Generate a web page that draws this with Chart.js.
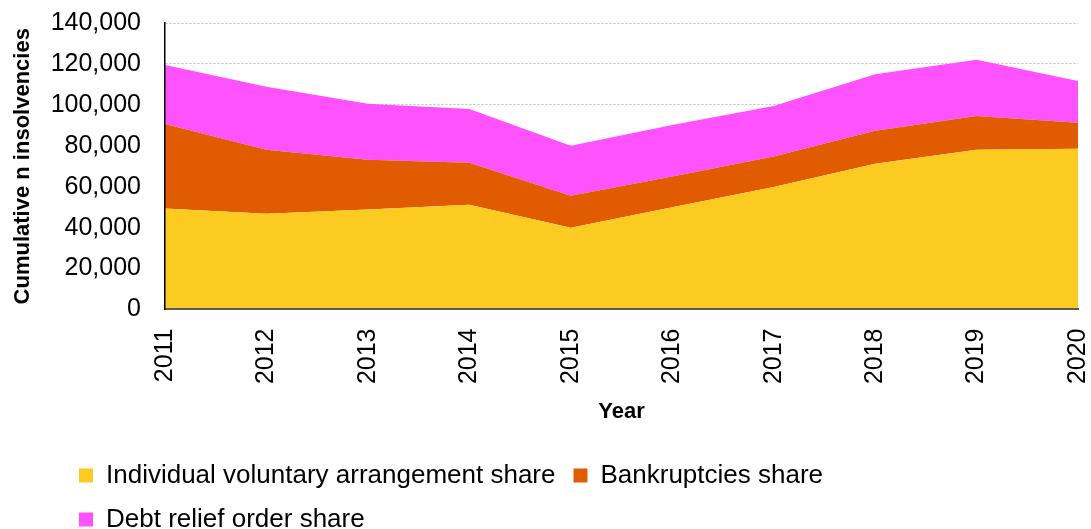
<!DOCTYPE html>
<html>
<head>
<meta charset="utf-8">
<script src="https://cdn.jsdelivr.net/npm/chart.js@4"></script>
<style>
  html, body { margin: 0; padding: 0; background: #fff; }
  #wrap { width: 1091px; height: 529px; }
</style>
</head>
<body>
<div id="wrap"><canvas id="insolvencyChart" width="1091" height="529"></canvas></div>
<script>
// values
const years = ['2011', '2012', '2013', '2014', '2015', '2016', '2017', '2018', '2019', '2020'];
const ivaShare = [49300, 46800, 48800, 51200, 40000, 49900, 59900, 71200, 78000, 78500];
const bankruptcyShare = [41400, 31200, 24400, 20500, 15600, 15100, 14900, 16100, 16600, 12700];
const droShare = [28800, 30800, 27300, 26300, 24400, 25100, 24700, 27700, 27400, 20500];
const yTicks = [0, 20000, 40000, 60000, 80000, 100000, 120000, 140000];

const font = 'Liberation Sans, Arial, sans-serif';

function area(label, data, color, fill) {
    return {
        label: label,
        data: data,
        backgroundColor: color,
        borderColor: color,
        borderWidth: 0,
        pointRadius: 0,
        fill: fill,
        tension: 0
    };
}

// legend sits under the chart area but starts further left, like the original
const legendShift = {
    id: 'legendShift',
    afterLayout(chart) {
        chart.legend.left = 61;
    }
};

const ctx = document.getElementById('insolvencyChart').getContext('2d');
const insolvencyChart = new Chart(ctx, {
    type: 'line',
    data: {
        labels: years,
        datasets: [
            area('Individual voluntary arrangement share', ivaShare, '#FBCB22', 'origin'),
            area('Bankruptcies share', bankruptcyShare, '#E15B00', '-1'),
            area('Debt relief order share', droShare, '#FF52FF', '-1')
        ]
    },
    plugins: [legendShift],
    options: {
        responsive: false,
        animation: false,
        layout: { padding: { left: 0, top: 23, right: 0, bottom: -13.5 } },
        plugins: {
            tooltip: { enabled: false },
            legend: {
                position: 'bottom',
                align: 'start',
                fullSize: false,
                labels: {
                    boxWidth: 14,
                    boxHeight: 14,
                    padding: 18,
                    color: '#000',
                    font: { family: font, size: 26 }
                }
            }
        },
        scales: {
            x: {
                afterFit: function (scale) {
                    scale.paddingLeft = 0;
                    scale.paddingRight = 13;
                },
                grid: { display: false, drawTicks: false },
                border: { display: true, color: '#595959', width: 2, z: 1 },
                ticks: {
                    minRotation: 90,
                    maxRotation: 90,
                    padding: 19,
                    color: '#000',
                    font: { family: font, size: 25 }
                },
                title: {
                    display: true,
                    text: 'Year',
                    color: '#000',
                    font: { family: font, size: 22, weight: 'bold' },
                    padding: { top: -4, bottom: 19 }
                }
            },
            y: {
                stacked: true,
                min: 0,
                max: 140000,
                afterFit: function (scale) {
                    scale.width = 165;
                    scale.paddingTop = 0;
                    scale.paddingBottom = 0;
                },
                afterBuildTicks: function (scale) {
                    scale.ticks = yTicks.map(v => ({ value: v }));
                },
                grid: { color: '#bdbdbd', lineWidth: 1, drawTicks: false },
                border: { display: true, color: '#000', width: 1.5, dash: [2, 2], z: 1 },
                ticks: {
                    padding: 24,
                    color: '#000',
                    font: { family: font, size: 25 },
                    callback: v => v.toLocaleString('en-US')
                },
                title: {
                    display: true,
                    text: 'Cumulative n insolvencies',
                    color: '#000',
                    font: { family: font, size: 22, weight: 'bold' },
                    padding: { top: 10, bottom: 0 }
                }
            }
        }
    }
});
</script>
</body>
</html>
